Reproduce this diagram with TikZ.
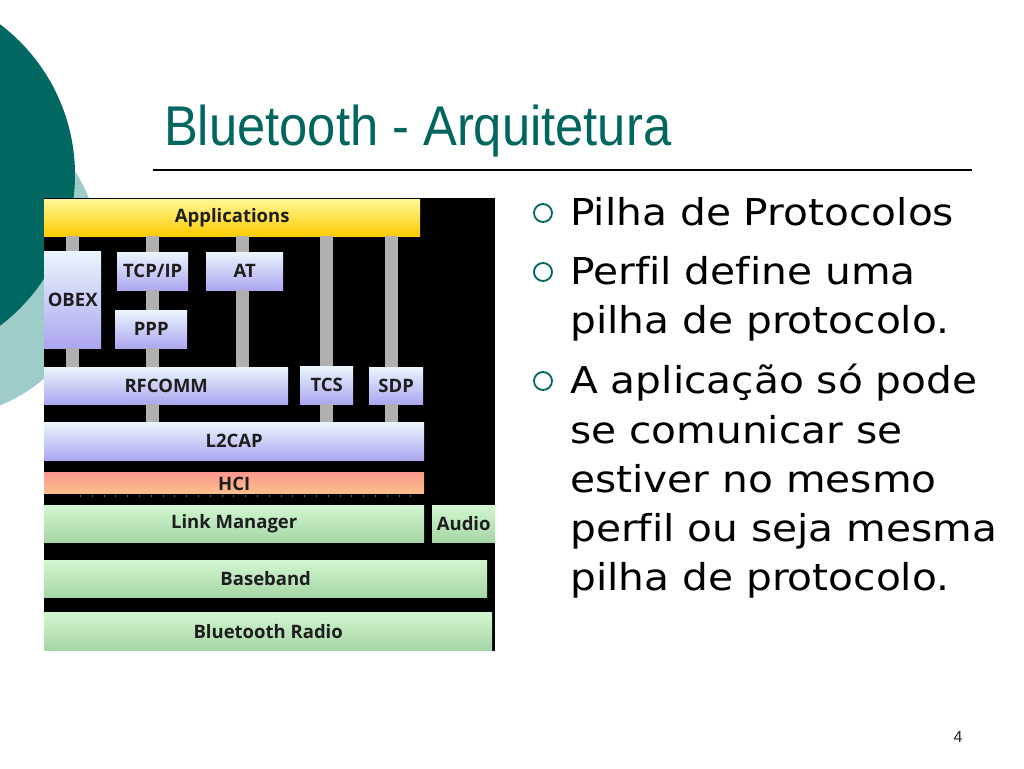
\documentclass[tikz,border=0pt]{standalone}
\usepackage{fontspec}
\setmainfont{Liberation Sans}
\newfontfamily\titlefont{Liberation Sans}
\newfontfamily\bodyfont[Ligatures=NoCommon]{DejaVu Sans}
\newfontfamily\boxfont{Open Sans}
\definecolor{teal1}{RGB}{0,104,96}
\definecolor{teal2}{RGB}{158,204,201}
\definecolor{titlecol}{RGB}{0,102,94}
\definecolor{barcol}{RGB}{176,176,176}
\definecolor{boxtext}{RGB}{30,30,30}
\tikzset{
  layer/.style={rectangle, inner sep=0pt, anchor=north west, text=boxtext,
     font=\boxfont\bfseries\fontsize{18.5}{20}\selectfont},
  yel/.style={layer, top color={rgb,255:red,255;green,246;blue,150}, bottom color={rgb,255:red,255;green,204;blue,0}},
  lav/.style={layer, top color={rgb,255:red,234;green,246;blue,252}, bottom color={rgb,255:red,172;green,166;blue,240}},
  hci/.style={layer, top color={rgb,255:red,250;green,152;blue,142}, bottom color={rgb,255:red,252;green,192;blue,140}},
  grn/.style={layer, top color={rgb,255:red,210;green,246;blue,208}, bottom color={rgb,255:red,166;green,214;blue,166}},
  bar/.style={draw=barcol, line width=13pt},
  bline/.style={anchor=base west, inner sep=0pt, xscale=1.1, font=\bodyfont\fontsize{37}{40}\selectfont},
  bmark/.style={circle, draw=titlecol, line width=1.8pt, minimum size=18pt, inner sep=0pt},
}
\begin{document}
\begin{tikzpicture}[x=1pt,y=-1pt]
\useasboundingbox (0,0) rectangle (1024,768);
\fill[white] (0,0) rectangle (1024,768);
% decorative circles
\fill[teal2] (-60,257) circle (160);
\fill[teal1] (-114,175) circle (189);
% title
\node[anchor=base west, inner sep=0pt, xscale=0.905, text=titlecol,
      font=\titlefont\fontsize{56}{60}\selectfont] (title) at (164,145) {Bluetooth - Arquitetura};
\coordinate (tl) at (153,170);
\coordinate (tr) at (972,170);
\draw[line width=1.5pt] (tl) -- (tr);
% stack background
\fill[black] (44,198) rectangle (495,651);
% layers
\node[yel, minimum width=376pt, minimum height=37pt] (apps) at (44,199) {Applications};
\node[lav, minimum width=57pt, minimum height=97pt] (obex) at (44,251) {OBEX};
\node[lav, minimum width=71pt, minimum height=38pt] (tcp) at (117,252) {TCP/IP};
\node[lav, minimum width=77pt, minimum height=38pt] (at) at (206,252) {AT};
\node[lav, minimum width=72pt, minimum height=38pt] (ppp) at (115,310) {PPP};
\node[lav, minimum width=244pt, minimum height=37pt] (rfcomm) at (44,367) {RFCOMM};
\node[lav, minimum width=53pt, minimum height=38pt] (tcs) at (300,366) {TCS};
\node[lav, minimum width=54pt, minimum height=37pt] (sdp) at (369,367) {SDP};
\node[lav, minimum width=380pt, minimum height=38pt] (l2cap) at (44,422) {L2CAP};
\node[hci, minimum width=380pt, minimum height=21pt, text depth=0pt] (hcinode) at (44,472) {\raisebox{-2pt}{HCI}};
\node[grn, minimum width=380pt, minimum height=37pt] (lm) at (44,505) {Link Manager};
\node[grn, minimum width=63pt, minimum height=37pt] (audio) at (432,505) {Audio};
\node[grn, minimum width=443pt, minimum height=37pt] (bb) at (44,560) {Baseband};
\node[grn, minimum width=448pt, minimum height=38pt] (radio) at (44,612) {Bluetooth Radio};
% faint marks under HCI
\coordinate (m1) at (80,496);
\coordinate (m2) at (420,496);
\draw[barcol!60!black, line width=2.5pt, dash pattern=on 0.8pt off 11pt] (m1) -- (m2);
% connectors
\draw[bar] (apps.south -| obex.north) -- (obex.north);
\draw[bar] (obex.south) -- (obex.south |- rfcomm.north);
\draw[bar] (apps.south -| tcp.north) -- (tcp.north);
\draw[bar] (tcp.south) -- (tcp.south |- ppp.north);
\draw[bar] (ppp.south -| tcp.south) -- (tcp.south |- rfcomm.north);
\draw[bar] (rfcomm.south -| tcp.south) -- (tcp.south |- l2cap.north);
\draw[bar] ([xshift=-2pt]apps.south -| at.north) -- ([xshift=-2pt]at.north);
\draw[bar] ([xshift=-2pt]at.south) -- ([xshift=-2pt]at.south |- rfcomm.north);
\draw[bar] (apps.south -| tcs.north) -- (tcs.north);
\draw[bar] (tcs.south) -- (tcs.south |- l2cap.north);
\draw[bar] ([xshift=-4.5pt]apps.south -| sdp.north) -- ([xshift=-4.5pt]sdp.north);
\draw[bar] ([xshift=-4.5pt]sdp.south) -- ([xshift=-4.5pt]sdp.south |- l2cap.north);
% bullets
\node[bmark] (b1) at (543,213) {};
\node[bmark] (b2) at (543,272) {};
\node[bmark] (b3) at (543,381) {};
\node[bline] (t1) at (570,225) {Pilha de Protocolos};
\node[bline] (t2) at (570,284) {Perfil define uma};
\node[bline] (t3) at (570,333) {pilha de protocolo.};
\node[bline] (t4) at (570,393) {A aplicação só pode};
\node[bline] (t5) at (570,443) {se comunicar se};
\node[bline] (t6) at (570,492) {estiver no mesmo};
\node[bline] (t7) at (570,541) {perfil ou seja mesma};
\node[bline] (t8) at (570,590) {pilha de protocolo.};
% page number
\node[font=\titlefont\fontsize{16}{18}\selectfont, text=black!85] (pg) at (958,737) {4};
\end{tikzpicture}
\end{document}
